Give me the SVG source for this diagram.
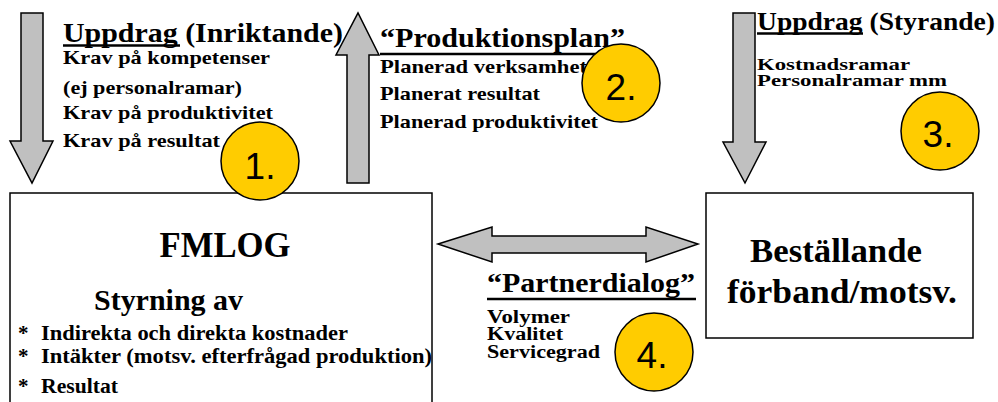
<svg xmlns="http://www.w3.org/2000/svg" width="998" height="402" viewBox="0 0 998 402">
<style>
.t{font-family:'Liberation Serif','Times New Roman',serif;font-weight:700;fill:#000}
.n{font-family:'Liberation Sans',Arial,sans-serif;font-size:37px;fill:#000;text-anchor:middle}
.arr{fill:#C0C0C0;stroke:#000;stroke-width:1.5;stroke-linejoin:miter}
.box{fill:#fff;stroke:#000;stroke-width:1.5}
.num{fill:#FFCC00;stroke:#000;stroke-width:1.5}
.ul{stroke:#000;stroke-width:2.5}
</style>
<rect width="998" height="402" fill="#fff"/>
<g id="connectors">
  <polygon class="arr" points="21,13 43,13 43,141 53,141 32,183 10,141 21,141"/>
  <polygon class="arr" points="347,183 369,183 369,55 379,55 358,13 336,55 347,55"/>
  <polygon class="arr" points="733,13 755,13 755,142 766,142 745,183 723,142 733,142"/>
  <polygon class="arr" points="438,244 492,227 492,236 646,236 646,227 698,244 646,262 646,253 492,253 492,262"/>
</g>
<g id="fmlog">
  <rect class="box" x="10" y="193" width="422" height="230"/>
  <text class="t" x="225" y="257" font-size="35" text-anchor="middle" textLength="131" lengthAdjust="spacingAndGlyphs">FMLOG</text>
  <text class="t" x="94" y="310" font-size="30" textLength="149" lengthAdjust="spacingAndGlyphs">Styrning av</text>
  <text class="t" x="18" y="340" font-size="21">*</text>
  <text class="t" x="41" y="340" font-size="21" textLength="307" lengthAdjust="spacingAndGlyphs">Indirekta och direkta kostnader</text>
  <text class="t" x="18" y="363" font-size="21">*</text>
  <text class="t" x="41" y="363" font-size="21" textLength="391" lengthAdjust="spacingAndGlyphs">Intäkter (motsv. efterfrågad produktion)</text>
  <text class="t" x="18" y="393" font-size="21">*</text>
  <text class="t" x="41" y="393" font-size="21" textLength="77" lengthAdjust="spacingAndGlyphs">Resultat</text>
</g>
<g id="bestallande">
  <rect class="box" x="706" y="193" width="267" height="145"/>
  <text class="t" x="750" y="262" font-size="33" textLength="172" lengthAdjust="spacingAndGlyphs">Beställande</text>
  <text class="t" x="727" y="303" font-size="33" textLength="230" lengthAdjust="spacingAndGlyphs">förband/motsv.</text>
</g>
<g id="uppdrag-inriktande">
  <text class="t" x="63" y="42" font-size="28" textLength="280" lengthAdjust="spacingAndGlyphs">Uppdrag (Inriktande)</text>
  <line class="ul" x1="63" y1="45.5" x2="180" y2="45.5"/>
  <text class="t" x="63" y="64" font-size="19" textLength="207" lengthAdjust="spacingAndGlyphs">Krav på kompetenser</text>
  <text class="t" x="63" y="94" font-size="19" textLength="179" lengthAdjust="spacingAndGlyphs">(ej personalramar)</text>
  <text class="t" x="63" y="119" font-size="19" textLength="210" lengthAdjust="spacingAndGlyphs">Krav på produktivitet</text>
  <text class="t" x="63" y="147" font-size="19" textLength="157" lengthAdjust="spacingAndGlyphs">Krav på resultat</text>
</g>
<g id="produktionsplan">
  <text class="t" x="380" y="47" font-size="27" textLength="245" lengthAdjust="spacingAndGlyphs">“Produktionsplan”</text>
  <line class="ul" x1="380" y1="54" x2="625" y2="54"/>
  <text class="t" x="380" y="73" font-size="19" textLength="207" lengthAdjust="spacingAndGlyphs">Planerad verksamhet</text>
  <text class="t" x="380" y="100" font-size="19" textLength="160" lengthAdjust="spacingAndGlyphs">Planerat resultat</text>
  <text class="t" x="380" y="128" font-size="19" textLength="218" lengthAdjust="spacingAndGlyphs">Planerad produktivitet</text>
</g>
<g id="uppdrag-styrande">
  <text class="t" x="757" y="30" font-size="26" textLength="238" lengthAdjust="spacingAndGlyphs">Uppdrag (Styrande)</text>
  <line class="ul" x1="757" y1="33.5" x2="863" y2="33.5"/>
  <text class="t" x="757" y="70" font-size="17" textLength="153" lengthAdjust="spacingAndGlyphs">Kostnadsramar</text>
  <text class="t" x="757" y="86" font-size="17" textLength="190" lengthAdjust="spacingAndGlyphs">Personalramar mm</text>
</g>
<g id="partnerdialog">
  <text class="t" x="487" y="292" font-size="27" textLength="208" lengthAdjust="spacingAndGlyphs">“Partnerdialog”</text>
  <line class="ul" x1="487" y1="299" x2="696" y2="299" stroke-width="3"/>
  <text class="t" x="487" y="323" font-size="18" textLength="83" lengthAdjust="spacingAndGlyphs">Volymer</text>
  <text class="t" x="487" y="340" font-size="18" textLength="76" lengthAdjust="spacingAndGlyphs">Kvalitet</text>
  <text class="t" x="487" y="358" font-size="18" textLength="113" lengthAdjust="spacingAndGlyphs">Servicegrad</text>
</g>
<g id="badge1"><circle class="num" cx="260" cy="161" r="39"/><text class="n" x="260" y="179">1.</text></g>
<g id="badge2"><circle class="num" cx="621" cy="83" r="39"/><text class="n" x="621" y="100">2.</text></g>
<g id="badge3"><circle class="num" cx="940" cy="131" r="39"/><text class="n" x="938" y="147">3.</text></g>
<g id="badge4"><circle class="num" cx="654" cy="352" r="39"/><text class="n" x="652" y="368">4.</text></g>
</svg>
